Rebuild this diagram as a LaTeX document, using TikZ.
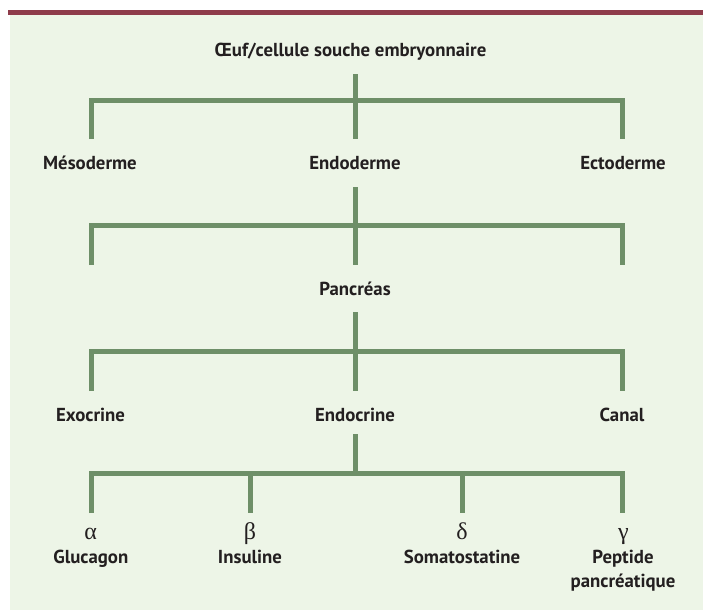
\documentclass[tikz,border=0pt]{standalone}
\usepackage{fontspec}
\setmainfont{PT Sans}
\newfontfamily\greekfont{Liberation Serif}
\definecolor{bgcol}{HTML}{EDF5E7}
\definecolor{barcol}{HTML}{8E3B4A}
\definecolor{linecol}{HTML}{6E8F68}
\definecolor{txtcol}{HTML}{231F20}
\begin{document}
\begin{tikzpicture}[x=1pt,y=-1pt,
  lbl/.style={font=\fontsize{18.8}{23.3}\selectfont\bfseries, text=txtcol, inner sep=0pt, anchor=base, align=center},
  greek/.style={font=\greekfont\fontsize{24}{24}\selectfont, text=txtcol, inner sep=0pt, anchor=base},
  link/.style={draw=linecol, line width=5pt, line cap=butt, line join=miter}]
\useasboundingbox (0,0) rectangle (703,611);
\fill[white] (0,0) rectangle (703,611);
\fill[bgcol] (10,15) rectangle (703,610);
\fill[barcol] (8,10) rectangle (703,15);

% text nodes
\node[lbl] (oeuf) at (350.5,56) {Œuf/cellule souche embryonnaire};
\node[lbl] (meso) at (90,169) {Mésoderme};
\node[lbl] (endo) at (355,169) {Endoderme};
\node[lbl] (ecto) at (623,169) {Ectoderme};
\node[lbl] (panc) at (355,295) {Pancréas};
\node[lbl] (exo) at (90.5,421) {Exocrine};
\node[lbl] (endoc) at (355,421) {Endocrine};
\node[lbl] (canal) at (622,421) {Canal};
\node[greek] (alpha) at (90.7,539) {α};
\node[greek] (beta) at (250,539) {β};
\node[greek] (delta) at (462,539) {δ};
\node[greek] (gamma) at (623.5,539) {γ};
\node[lbl] (gluc) at (90.8,563.7) {Glucagon};
\node[lbl] (insu) at (250,563.7) {Insuline};
\node[lbl] (soma) at (462,563.7) {Somatostatine};
\node[lbl] (pept) at (623,587) {Peptide\\pancréatique};

% junction coordinates
\coordinate (s1a) at (355,74);   \coordinate (s1b) at (355,139);
\coordinate (l1a) at (91,139);   \coordinate (r1a) at (622.5,139);
\coordinate (s2a) at (355,187);  \coordinate (s2b) at (355,265);
\coordinate (l2a) at (91,265);   \coordinate (r2a) at (622.5,265);
\coordinate (s3a) at (355,312);  \coordinate (s3b) at (355,391);
\coordinate (l3a) at (91,391);   \coordinate (r3a) at (622.5,391);
\coordinate (s4a) at (355,434);  \coordinate (s4b) at (355,473.5);
\coordinate (l4a) at (91,513);   \coordinate (r4a) at (622.5,513);
\coordinate (b4a) at (250,513);  \coordinate (d4a) at (462.5,513);

% level 1
\draw[link] (s1a) -- (s1b);
\draw[link] (l1a) -- (91,100) -- (622.5,100) -- (r1a);
% level 2
\draw[link] (s2a) -- (s2b);
\draw[link] (l2a) -- (91,225) -- (622.5,225) -- (r2a);
% level 3
\draw[link] (s3a) -- (s3b);
\draw[link] (l3a) -- (91,351.5) -- (622.5,351.5) -- (r3a);
% level 4
\draw[link] (s4a) -- (s4b);
\draw[link] (l4a) -- (91,473.5) -- (622.5,473.5) -- (r4a);
\draw[link] (250,473.5) -- (b4a);
\draw[link] (462.5,473.5) -- (d4a);
\end{tikzpicture}
\end{document}
